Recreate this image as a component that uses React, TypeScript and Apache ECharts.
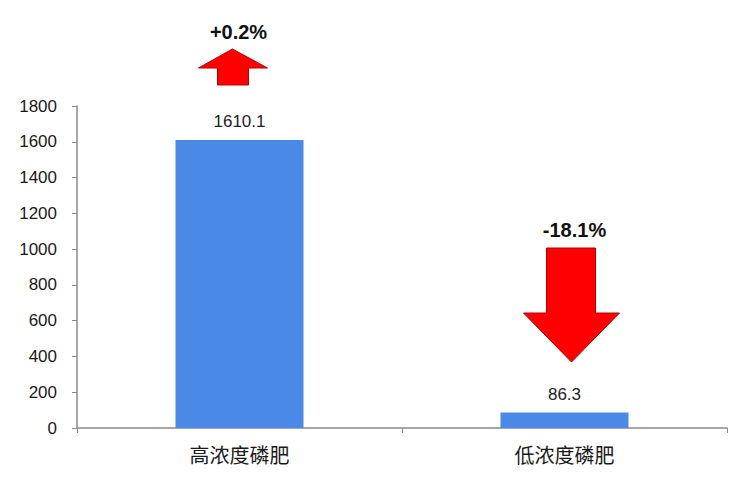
import { useEffect, useRef } from "react";
import * as echarts from "echarts";

const categories = ["高浓度磷肥", "低浓度磷肥"];
const values = [1610.1, 86.3];
const changes = ["+0.2%", "-18.1%"];
const yTicks = { min: 0, max: 1800, interval: 200 };

export default function App() {
  const ref = useRef<HTMLDivElement>(null);

  useEffect(() => {
    if (!ref.current) return;
    document.body.style.margin = "0";
    const chart = echarts.init(ref.current, null, { renderer: "svg" });

    chart.setOption({
      animation: false,
      backgroundColor: "#fff",
      textStyle: { fontFamily: "Liberation Sans, Noto Sans CJK SC, sans-serif" },
      grid: { left: 77, right: 23, top: 106, bottom: 72 },
      xAxis: {
        type: "category",
        data: categories,
        axisLine: { lineStyle: { color: "#8a8a8a", width: 1.5 } },
        axisTick: { show: true, length: 5, lineStyle: { color: "#8a8a8a" } },
        axisLabel: { color: "#1a1a1a", fontSize: 20, margin: 16, fontFamily: "Noto Sans CJK SC" },
      },
      yAxis: {
        type: "value",
        ...yTicks,
        axisLine: { show: true, lineStyle: { color: "#8a8a8a", width: 1.5 } },
        axisTick: { show: true, length: 5, lineStyle: { color: "#8a8a8a" } },
        axisLabel: { color: "#1a1a1a", fontSize: 17, margin: 20, formatter: (v: number) => String(v) },
        splitLine: { show: false },
      },
      series: [
        {
          type: "bar",
          data: values,
          barWidth: 128,
          itemStyle: { color: "#4a89e6" },
          label: {
            show: true,
            position: "top",
            distance: 10,
            color: "#222",
            fontSize: 17,
            formatter: (p: any) => p.value.toFixed(1),
          },
        },
      ],
    });

    // arrows + change labels placed relative to each category center
    const c0 = chart.convertToPixel({ xAxisIndex: 0 }, 0) as number;
    const c1 = chart.convertToPixel({ xAxisIndex: 0 }, 1) as number;
    const up = c0 - 7;
    const dn = c1 + 7;
    chart.setOption({
      graphic: [
        {
          type: "polygon",
          shape: {
            points: [
              [up, 49], [up + 35, 68], [up + 16, 68], [up + 16, 85],
              [up - 15, 85], [up - 15, 68], [up - 34, 68],
            ],
          },
          style: { fill: "#ff0000", stroke: "#b80000", lineWidth: 1 },
        },
        {
          type: "text",
          x: c0 - 1,
          y: 32,
          style: {
            text: changes[0],
            fontSize: 20,
            fontWeight: "bold",
            fill: "#111",
            align: "center",
            verticalAlign: "middle",
            fontFamily: "Liberation Sans",
          },
        },
        {
          type: "polygon",
          shape: {
            points: [
              [dn - 25, 248], [dn + 24, 248], [dn + 24, 313], [dn + 48, 313],
              [dn, 362], [dn - 48, 313], [dn - 25, 313],
            ],
          },
          style: { fill: "#ff0000", stroke: "#b80000", lineWidth: 1 },
        },
        {
          type: "text",
          x: dn + 3,
          y: 230,
          style: {
            text: changes[1],
            fontSize: 20,
            fontWeight: "bold",
            fill: "#111",
            align: "center",
            verticalAlign: "middle",
            fontFamily: "Liberation Sans",
          },
        },
      ],
    });

    return () => chart.dispose();
  }, []);

  return <div ref={ref} style={{ width: 750, height: 500 }} />;
}
